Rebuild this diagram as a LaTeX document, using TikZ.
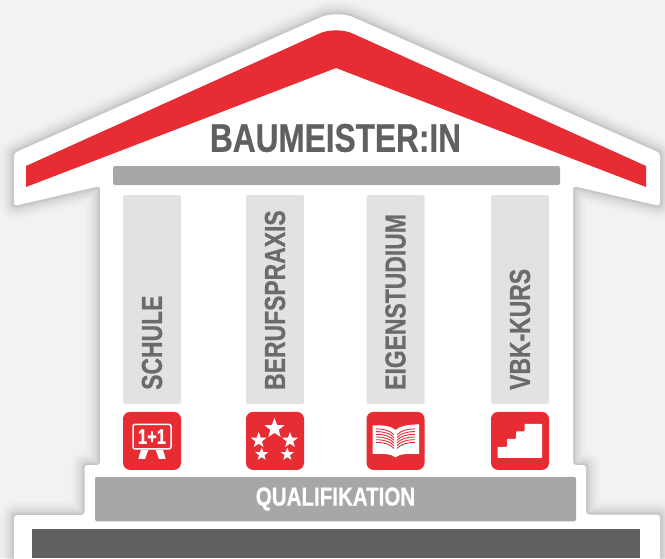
\documentclass[tikz,border=0pt]{standalone}
\usepackage{fontspec}
\usetikzlibrary{positioning,shapes.geometric}
\newfontfamily\narrowfont[FakeStretch=0.79,FakeBold=0.6]{Liberation Sans Bold}
\definecolor{bggray}{HTML}{F2F2F2}
\definecolor{roofred}{HTML}{E72C34}
\definecolor{bargray}{HTML}{A7A7A5}
\definecolor{pillargray}{HTML}{E2E2E2}
\definecolor{darkgray}{HTML}{5F615F}
\definecolor{textgray}{HTML}{6A6C6A}
\begin{document}
\begin{tikzpicture}[x=1pt,y=-1pt,
pillar/.style = {fill=pillargray, rounded corners=2pt, minimum width=58pt, minimum height=209pt, inner sep=0},
pillartext/.style = {rotate=90, anchor=west, text=textgray, inner sep=0, font=\narrowfont\fontsize{29}{29}\selectfont},
iconbox/.style = {fill=roofred, rounded corners=7pt, minimum width=58pt, minimum height=58pt, inner sep=0},
whitestar/.style = {star, star points=5, star point ratio=2.4, fill=white, inner sep=0},
house/.style = {rounded corners=3pt, insert path={(14,153) [rounded corners=18pt] -- (337,10) [rounded corners=3pt] -- (660,153) -- (660,206) -- (573,186) -- (573,465) -- (586,465) -- (586,514.5) -- (660,514.5) -- (660,580) -- (14,580) -- (14,515) -- (84.5,515) -- (84.5,465) -- (100,465) -- (100,186) -- (14,206) -- cycle}}]

\useasboundingbox (0,0) rectangle (665,558);
\clip (0,0) rectangle (665,558);
\fill[bggray] (0,0) rectangle (665,558);

% soft shadow
\foreach \w in {2,3,4,5,6,7,8,10,12,14,16,18,21,24,28}
    \draw[house, black, opacity=0.012, line width=\w pt];
\fill[house, white];

% roof
\fill[roofred] (26,166) [rounded corners=18pt] -- (336,26) [rounded corners=0pt] -- (646,166) -- (646,187) -- (336,68) -- (26,187) -- cycle;
\node[text=darkgray, inner sep=0, font=\narrowfont\fontsize{40}{40}\selectfont] (title) at (335.5,138) {BAUMEISTER:IN};
\node[fill=bargray, rounded corners=2pt, minimum width=447pt, minimum height=19pt, inner sep=0] (beam) at (336.5,175.5) {};

% pillars
\node[pillar] (1) at (152,299.5) {};
\node[pillar] (2) at (275,299.5) {};
\node[pillar] (3) at (395.5,299.5) {};
\node[pillar] (4) at (520,299.5) {};
\node[pillartext] (t1) at (152,390) {SCHULE};
\node[pillartext] (t2) at (275,390) {BERUFSPRAXIS};
\node[pillartext] (t3) at (395.5,390) {EIGENSTUDIUM};
\node[pillartext] (t4) at (520,390) {VBK-KURS};

\node[iconbox, below=7.5pt of 1] (i1) {};
\node[iconbox, below=7.5pt of 2] (i2) {};
\node[iconbox, below=7.5pt of 3] (i3) {};
\node[iconbox, below=7.5pt of 4] (i4) {};

% board
\begin{scope}[shift={(i1.center)}]
    \draw[white, line width=1.5pt, rounded corners=2pt] (-19,-16.5) rectangle (19,8);
    \node[text=white, inner sep=0, font=\narrowfont\fontsize{21}{21}\selectfont] (sum) at (0,-4.3) {1+1};
    \fill[white] (-11,9) -- (-3.7,9) -- (-7,18) -- (-13.7,18) -- cycle;
    \fill[white] (11,9) -- (3.7,9) -- (7,18) -- (13.7,18) -- cycle;
\end{scope}

% stars
\node[whitestar, minimum size=21pt] (s1) at (274.5,428.5) {};
\node[whitestar, minimum size=16.5pt] (s2) at (258.7,440.3) {};
\node[whitestar, minimum size=16.5pt] (s3) at (290,440.3) {};
\node[whitestar, minimum size=13.5pt] (s4) at (261.7,454.3) {};
\node[whitestar, minimum size=13.5pt] (s5) at (287.3,454.3) {};

% book
\begin{scope}[shift={(i3.center)}]
    \fill[white] (-23,-15.5) .. controls (-12,-16) and (-4,-14.5) .. (0,-11) .. controls (4,-14.5) and (12,-16.5) .. (23.5,-16.5) -- (23.5,13) .. controls (12,12.5) and (4,13) .. (0,16.5) .. controls (-4,13) and (-12,12.5) .. (-23,13) -- cycle;
    \foreach \y in {-12,-9.3,...,2}{
        \draw[roofred, line width=0.9pt] (-19.5,\y) .. controls (-11,\y) and (-5,{\y+2}) .. (-1.5,{\y+6});
        \draw[roofred, line width=0.9pt] (19.5,\y) .. controls (11,\y) and (5,{\y+2}) .. (1.5,{\y+6});
    }
\end{scope}

% stairs
\begin{scope}[shift={(i4.center)}]
    \fill[white, rounded corners=0.8pt] (-22.5,6) -- (-13,6) -- (-13,-2) -- (-4,-2) -- (-4,-9.5) -- (4.5,-9.5) -- (4.5,-17) -- (22,-17) -- (22,17) -- (-22.5,17) -- cycle;
\end{scope}

% base
\node[fill=bargray, rounded corners=2pt, minimum width=481pt, minimum height=44.5pt, inner sep=0, text=white, font=\narrowfont\fontsize{26}{26}\selectfont] (qual) at (335.5,499) {QUALIFIKATION};
\node[fill=darkgray, minimum width=608pt, minimum height=29pt, inner sep=0, anchor=north west] (floor) at (32,529) {};

\end{tikzpicture}
\end{document}
